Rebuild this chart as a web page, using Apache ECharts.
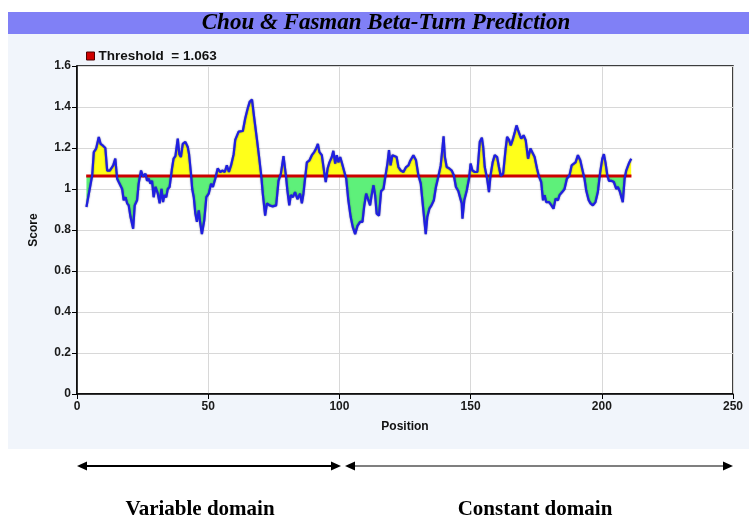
<!DOCTYPE html>
<html>
<head>
<meta charset="utf-8">
<script src="https://cdn.jsdelivr.net/npm/echarts@6/dist/echarts.min.js"></script>
<style>
html,body{margin:0;padding:0;background:#ffffff;}
#chart{width:749px;height:518px;}
</style>
</head>
<body>
<div id="chart"></div>
<script>
const titleText = 'Chou & Fasman Beta-Turn Prediction';
const threshold = 1.063;
const thresholdStart = 3.5;
const thresholdEnd = 211.3;
const xTicks = [0, 50, 100, 150, 200, 250];
const yTicks = [0, 0.2, 0.4, 0.6, 0.8, 1, 1.2, 1.4, 1.6];
const domainLabels = ['Variable domain', 'Constant domain'];

const positions = [
3.6,4.3,5.8,6.4,7.3,8.3,9.0,10.0,10.8,11.5,12.5,13.8,14.6,15.3,15.9,16.5,17.2,17.8,18.5,19.1,19.7,20.4,21.4,22.0,22.9,23.5,24.4,25.2,26.1,26.7,27.3,28.0,28.6,29.2,29.9,30.8,31.5,32.2,32.8,33.3,34.0,34.6,35.3,36.2,36.8,37.5,38.4,39.0,39.6,40.3,41.3,42.2,42.7,43.4,43.9,44.5,45.1,45.7,46.4,47.0,47.6,48.5,49.3,50.2,51.1,51.8,52.7,53.6,54.6,55.5,56.3,57.1,57.9,58.7,59.7,60.3,61.6,63.2,64.1,65.0,65.8,66.7,67.5,68.6,69.4,70.2,70.8,71.7,72.4,73.4,74.6,75.9,76.8,77.7,78.7,79.6,80.2,80.9,81.5,82.3,83.1,84.0,85.0,85.7,86.3,87.0,87.6,88.6,89.5,90.4,91.1,91.8,92.4,93.3,94.2,94.8,95.5,96.2,97.1,97.7,98.4,99.0,99.6,100.3,100.9,101.5,102.6,103.4,104.3,105.1,106.0,106.9,107.9,108.8,109.4,110.2,110.8,111.7,112.3,113.0,113.6,114.2,115.1,115.9,116.8,117.6,118.3,118.9,119.5,120.2,120.9,121.8,122.5,123.4,124.4,125.4,126.3,126.9,128.2,129.2,130.1,131.0,132.0,132.9,133.5,134.3,135.1,136.0,136.8,137.7,138.6,139.2,139.7,140.2,140.9,141.9,142.8,143.6,144.4,145.3,145.9,146.6,146.9,147.6,148.5,149.4,150.0,150.7,151.6,152.6,153.5,154.3,154.8,155.4,156.3,157.0,157.6,158.4,159.2,160.1,160.8,161.5,162.4,163.3,163.9,164.7,165.3,166.0,166.9,167.5,168.1,168.8,169.3,170.2,171.0,171.9,172.8,173.5,174.4,175.3,176.0,176.9,177.6,178.2,178.8,179.9,180.8,181.6,182.4,183.3,183.9,184.9,185.8,186.7,187.7,188.5,189.2,190.0,190.9,191.8,192.5,193.4,194.1,195.0,195.7,196.6,197.6,198.5,199.4,200.2,200.8,201.4,202.1,202.7,203.6,204.6,205.5,206.1,206.8,207.4,208.0,208.7,209.3,210.3,211.2
];
const scores = [
0.912,0.92,1.067,1.18,1.197,1.254,1.22,1.21,1.20,1.09,1.09,1.115,1.148,1.05,1.034,1.042,1.0,0.945,0.96,0.93,0.92,0.863,0.806,0.92,0.945,1.026,1.09,1.06,1.075,1.04,1.05,1.026,1.04,0.96,1.01,0.977,0.93,1.0,0.936,0.97,0.96,1.0,1.01,1.10,1.148,1.16,1.246,1.17,1.156,1.22,1.23,1.205,1.17,1.08,1.0,0.96,0.88,0.84,0.896,0.83,0.78,0.847,0.96,0.977,1.026,1.01,1.05,1.10,1.083,1.09,1.083,1.115,1.083,1.115,1.17,1.24,1.28,1.283,1.344,1.39,1.425,1.436,1.35,1.24,1.156,1.067,0.977,0.87,0.93,0.92,0.915,0.92,1.04,1.075,1.16,1.067,0.99,0.92,0.97,0.96,0.985,0.95,0.977,0.93,0.977,1.06,1.13,1.14,1.165,1.18,1.197,1.22,1.18,1.165,1.083,1.034,1.10,1.13,1.156,1.186,1.124,1.165,1.13,1.156,1.13,1.13,1.05,0.945,0.863,0.814,0.78,0.82,0.84,0.84,0.91,0.977,0.985,0.92,0.97,1.018,0.97,0.88,0.87,0.99,1.0,1.067,1.124,1.19,1.115,1.165,1.17,1.156,1.107,1.09,1.083,1.107,1.115,1.135,1.165,1.14,1.067,1.026,0.896,0.78,0.863,0.904,0.92,0.945,1.01,1.06,1.115,1.19,1.257,1.156,1.107,1.10,1.09,1.067,1.01,0.99,0.985,0.93,0.855,0.945,0.99,1.05,1.124,1.09,1.083,1.083,1.23,1.25,1.205,1.107,1.05,0.985,1.067,1.13,1.165,1.156,1.107,1.063,1.075,1.19,1.254,1.238,1.213,1.238,1.28,1.31,1.287,1.262,1.246,1.262,1.238,1.148,1.197,1.197,1.156,1.10,1.063,1.034,0.945,0.97,0.936,0.936,0.92,0.904,0.953,0.945,0.97,0.985,1.0,1.05,1.067,1.115,1.107,1.13,1.165,1.14,1.10,1.05,0.99,0.945,0.93,0.92,0.936,0.985,1.083,1.148,1.17,1.13,1.067,1.04,1.04,1.034,1.0,1.01,0.99,0.985,0.936,1.05,1.09,1.124,1.148
];

const seriesData = positions.map((p, i) => [p, scores[i]]);
const thresholdData = [[thresholdStart, threshold], [thresholdEnd, threshold]];

const chart = echarts.init(document.getElementById('chart'), null, {renderer: 'canvas'});

const labelFont = {fontFamily: 'Liberation Sans, Arial, sans-serif', fontWeight: 'bold', fontSize: 12, color: '#1a1a1a'};

const option = {
  animation: false,
  backgroundColor: '#ffffff',
  grid: {
    left: 77, right: 16, top: 66, bottom: 124,
    show: true, backgroundColor: '#ffffff', borderColor: '#000000', borderWidth: 1.5
  },
  legend: {
    left: 81, top: 44,
    itemWidth: 8, itemHeight: 8, itemGap: 6,
    icon: 'rect',
    data: [{name: 'Threshold  = 1.063', itemStyle: {color: '#d00000', borderColor: '#500000', borderWidth: 1}}],
    textStyle: {fontFamily: 'Liberation Sans, Arial, sans-serif', fontWeight: 'bold', fontSize: 13.5, color: '#111', padding: [0, 0, 0, -1]}
  },
  xAxis: {
    type: 'value', min: 0, max: 250, interval: 50,
    name: 'Position', nameLocation: 'middle', nameGap: 27,
    nameTextStyle: {fontFamily: 'Liberation Sans, Arial, sans-serif', fontWeight: 'bold', fontSize: 12, color: '#111'},
    axisLine: {show: true, onZero: false, lineStyle: {color: '#000', width: 1.5}},
    axisTick: {show: true, length: 5, lineStyle: {color: '#000'}},
    axisLabel: Object.assign({margin: 7}, labelFont),
    splitLine: {show: true, lineStyle: {color: '#d8d8d8', width: 1}}
  },
  yAxis: {
    type: 'value', min: 0, max: 1.6, interval: 0.2,
    name: 'Score', nameLocation: 'middle', nameGap: 37,
    nameTextStyle: {fontFamily: 'Liberation Sans, Arial, sans-serif', fontWeight: 'bold', fontSize: 12, color: '#111'},
    axisLine: {show: true, lineStyle: {color: '#000', width: 1.5}},
    axisTick: {show: true, length: 5, lineStyle: {color: '#000'}},
    axisLabel: Object.assign({margin: 6, formatter: v => String(Math.round(v * 10) / 10)}, labelFont),
    splitLine: {show: true, lineStyle: {color: '#d8d8d8', width: 1}}
  },
  visualMap: {
    show: false, type: 'piecewise', seriesIndex: 0, dimension: 1,
    pieces: [{min: 0, max: threshold, color: '#5ef07a'}, {min: threshold, max: 1.6, color: '#ffff1a'}]
  },
  series: [
    {
      name: 'fill', type: 'line', data: seriesData, symbol: 'none',
      lineStyle: {width: 0, opacity: 0},
      areaStyle: {origin: threshold, opacity: 1},
      z: 1, silent: true
    },
    {
      name: 'Threshold  = 1.063', type: 'line', data: thresholdData, symbol: 'none',
      lineStyle: {color: '#cc0000', width: 3},
      itemStyle: {color: '#d00000'},
      z: 2
    },
    {
      name: 'score', type: 'line', data: seriesData, symbol: 'none',
      lineStyle: {color: '#1f1fe0', width: 2.2, shadowColor: 'rgba(0,0,80,0.6)', shadowBlur: 1.5},
      z: 3
    }
  ],
  graphic: [
    {type: 'rect', z: -10, shape: {x: 8, y: 33, width: 741, height: 416}, style: {fill: '#f1f5fb'}},
    {type: 'rect', z: -9, shape: {x: 8, y: 12, width: 741, height: 22}, style: {fill: '#8080f6'}},
    {type: 'text', z: 10, x: 386, y: 23, style: {text: titleText, fill: '#000', font: 'italic bold 23px "Liberation Serif", "Times New Roman", serif', textAlign: 'center', textVerticalAlign: 'middle'}},
    {type: 'line', shape: {x1: 84, y1: 466, x2: 334, y2: 466}, style: {stroke: '#000', lineWidth: 2}},
    {type: 'polygon', shape: {points: [[77, 466], [87, 461.5], [87, 470.5]]}, style: {fill: '#000'}},
    {type: 'polygon', shape: {points: [[341, 466], [331, 461.5], [331, 470.5]]}, style: {fill: '#000'}},
    {type: 'line', shape: {x1: 352, y1: 466, x2: 726, y2: 466}, style: {stroke: '#000', lineWidth: 1.2}},
    {type: 'polygon', shape: {points: [[345, 466], [355, 461.5], [355, 470.5]]}, style: {fill: '#000'}},
    {type: 'polygon', shape: {points: [[733, 466], [723, 461.5], [723, 470.5]]}, style: {fill: '#000'}},
    {type: 'text', x: 200, y: 510, style: {text: domainLabels[0], fill: '#000', font: 'bold 21px "Liberation Serif", "Times New Roman", serif', textAlign: 'center', textVerticalAlign: 'middle'}},
    {type: 'text', x: 535, y: 510, style: {text: domainLabels[1], fill: '#000', font: 'bold 21px "Liberation Serif", "Times New Roman", serif', textAlign: 'center', textVerticalAlign: 'middle'}}
  ]
};
chart.setOption(option);
</script>
</body>
</html>
